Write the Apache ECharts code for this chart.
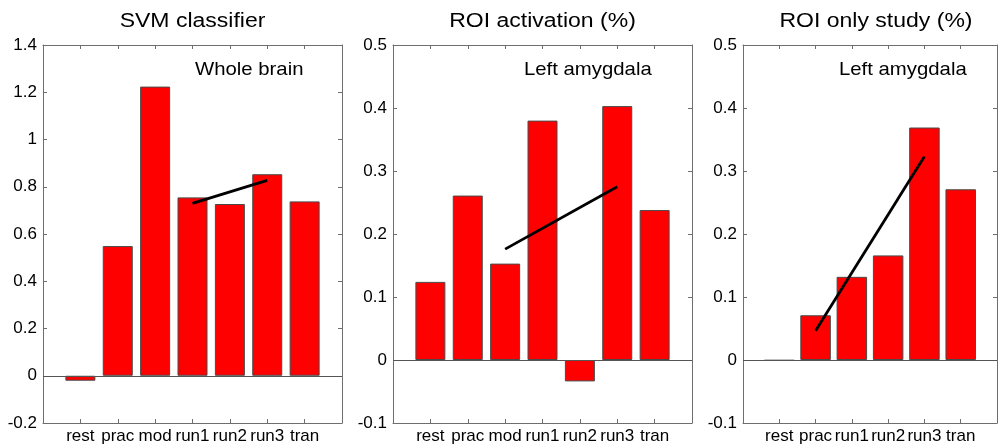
<!DOCTYPE html>
<html>
<head>
<meta charset="utf-8">
<script src="https://cdn.jsdelivr.net/npm/echarts@6/dist/echarts.min.js"></script>
<style>
  html, body { margin: 0; padding: 0; background: #fff; }
  #chart { width: 1000px; height: 446px; }
</style>
</head>
<body>
<div id="chart"></div>
<script>
// categories of each panel
var catsSvm = ['rest', 'prac', 'mod', 'run1', 'run2', 'run3', 'tran'];
var catsAct = ['rest', 'prac', 'mod', 'run1', 'run2', 'run3', 'tran'];
var catsOnly = ['rest', 'prac', 'run1', 'run2', 'run3', 'tran'];

// bar heights
var svmValues = [-0.021, 0.549, 1.224, 0.755, 0.727, 0.853, 0.738];
var actValues = [0.124, 0.261, 0.153, 0.380, -0.034, 0.403, 0.238];
var onlyValues = [-0.001, 0.071, 0.132, 0.166, 0.369, 0.271];

// trend lines: [category position (1-based), value]
var svmTrend = [[4, 0.730], [6, 0.827]];
var actTrend = [[3, 0.176], [6, 0.275]];
var onlyTrend = [[2, 0.0465], [5, 0.323]];

var titles = ['SVM classifier', 'ROI activation (%)', 'ROI only study (%)'];
var labels = ['Whole brain', 'Left amygdala', 'Left amygdala'];

var axisColor = '#6e6e6e';
var font = 'Arial, "Liberation Sans", sans-serif';

var panels = [
  { left: 43, width: 299, cats: catsSvm, vals: svmValues, trend: svmTrend, min: -0.2, max: 1.4, step: 0.2, barW: 30, title: titles[0], label: labels[0], labelX: 195 },
  { left: 393, width: 299, cats: catsAct, vals: actValues, trend: actTrend, min: -0.1, max: 0.5, step: 0.1, barW: 30, title: titles[1], label: labels[1], labelX: 524 },
  { left: 743, width: 266, cats: catsOnly, vals: onlyValues, trend: onlyTrend, min: -0.1, max: 0.5, step: 0.1, barW: 30.5, title: titles[2], label: labels[2], labelX: 839 }
];

var option = {
  animation: false,
  backgroundColor: '#fff',
  graphic: [],
  grid: [],
  xAxis: [],
  yAxis: [],
  series: []
};

function frameAxis(extra) {
  var a = {
    type: 'value',
    axisLine: { show: true, onZero: false, lineStyle: { color: axisColor } },
    axisTick: { show: true, inside: true, length: 4, lineStyle: { color: axisColor } },
    splitLine: { show: false }
  };
  for (var k in extra) a[k] = extra[k];
  return a;
}

panels.forEach(function (p, i) {
  var n = p.cats.length;
  // the source figure's text is a bit wider than tall, hence scaleX
  option.graphic.push({
    type: 'text', x: p.left + p.width / 2, y: 21, scaleX: 1.15, silent: true,
    style: { text: p.title, font: '20px ' + font, fill: '#000', align: 'center', verticalAlign: 'middle' }
  });
  option.graphic.push({
    type: 'text', x: p.labelX, y: 70, scaleX: 1.07, silent: true,
    style: { text: p.label, font: '19px ' + font, fill: '#000', align: 'left', verticalAlign: 'middle' }
  });
  option.grid.push({ left: p.left, top: 45, width: p.width, height: 378 });

  var cats = p.cats;
  // bottom axis with category names
  option.xAxis.push(frameAxis({
    gridIndex: i, min: 0, max: n + 1, interval: 1, position: 'bottom',
    axisLabel: {
      margin: 5, color: '#000', fontFamily: font, fontSize: 17,
      formatter: function (v) { return cats[v - 1] || ''; }
    }
  }));
  // top axis, ticks only
  option.xAxis.push(frameAxis({
    gridIndex: i, min: 0, max: n + 1, interval: 1, position: 'top',
    axisLabel: { show: false }
  }));
  option.yAxis.push(frameAxis({
    gridIndex: i, min: p.min, max: p.max, interval: p.step, position: 'left',
    axisLabel: { margin: 6, color: '#000', fontFamily: font, fontSize: 17 }
  }));
  option.yAxis.push(frameAxis({
    gridIndex: i, min: p.min, max: p.max, interval: p.step, position: 'right',
    axisLabel: { show: false }
  }));

  option.series.push({
    type: 'bar',
    xAxisIndex: i * 2,
    yAxisIndex: i * 2,
    barWidth: p.barW,
    data: p.vals.map(function (v, k) { return [k + 1, v]; }),
    itemStyle: { color: '#ff0000', borderColor: '#4a4a4a', borderWidth: 1 },
    markLine: {
      silent: true,
      symbol: ['none', 'none'],
      label: { show: false },
      lineStyle: { color: '#555', width: 1, type: 'solid' },
      data: [{ yAxis: 0 }]
    }
  });
  option.series.push({
    type: 'line',
    xAxisIndex: i * 2,
    yAxisIndex: i * 2,
    symbol: 'none',
    z: 5,
    lineStyle: { color: '#000', width: 2.8 },
    data: p.trend
  });
});

var mychart = echarts.init(document.getElementById('chart'));
mychart.setOption(option);
</script>
</body>
</html>
